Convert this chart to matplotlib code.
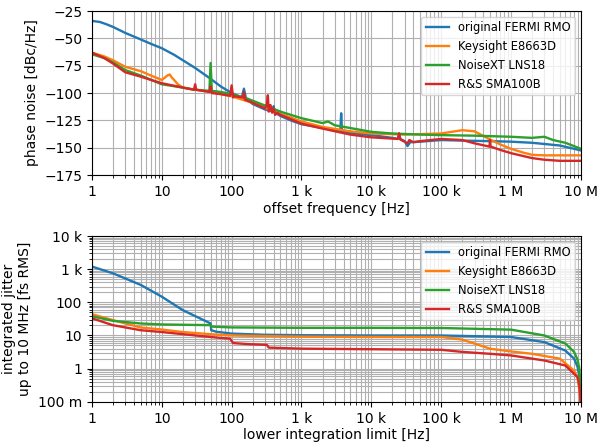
import numpy as np
import matplotlib
matplotlib.use('Agg')
import matplotlib.pyplot as plt
from matplotlib.ticker import EngFormatter

labels = ['original FERMI RMO', 'Keysight E8663D', 'NoiseXT LNS18', 'R&S SMA100B']

# phase noise [dBc/Hz] vs offset frequency [Hz]
pn_f_rmo = [1, 1.3, 1.6, 2, 3, 5, 7, 10, 15, 20, 30, 50, 70, 100, 140, 150, 160, 200, 300, 390, 400, 410,
            500, 700, 1e3, 2e3, 3e3, 3.6e3, 3.7e3, 3.8e3, 5e3, 1e4, 2e4, 2.4e4, 2.5e4, 2.6e4, 3e4, 3.3e4,
            3.6e4, 5e4, 1e5, 2e5, 5e5, 1e6, 2e6, 5e6, 1e7]
pn_rmo = [-34, -35, -37, -39.5, -45, -51, -55, -59, -65, -70, -77, -87, -94, -100, -104, -96, -104.5, -110,
          -115, -117, -112, -117.5, -121, -125, -128.5, -132, -134, -135, -118.5, -135, -136.5, -138.5, -141,
          -142, -137, -142, -144, -148.5, -145, -144.5, -143, -143.5, -144, -144.5, -145.5, -148, -152.5]

pn_f_key = [1, 1.5, 2, 3, 5, 7, 10, 11, 12, 13, 14, 15, 17, 20, 29, 30, 31, 50, 100, 200, 500, 1e3, 2e3,
            5e3, 1e4, 3e4, 1e5, 2e5, 3e5, 5e5, 7e5, 1e6, 1.5e6, 2e6, 3e6, 1e7]
pn_key = [-63, -66.5, -70, -76, -80, -84, -88, -86, -84, -83, -86, -88, -92, -95, -97, -94, -97, -99, -103,
          -109, -119, -126, -131, -135, -137, -138, -137, -134, -135, -142.5, -147, -151, -154.5, -156.5,
          -157, -157]

pn_f_nxt = [1, 1.5, 2, 3, 5, 10, 20, 30, 48, 50, 52, 70, 100, 150, 200, 500, 1e3, 2e3, 2.4e3, 3e3, 5e3,
            1e4, 2e4, 5e4, 1e5, 3e5, 1e6, 2e6, 3e6, 4e6, 6e6, 1e7]
pn_nxt = [-64.5, -68, -72, -79, -84, -92, -95, -97, -98, -72.5, -98, -99, -101, -104, -107, -117, -123,
          -127.5, -126, -129.5, -132, -135.5, -137, -138, -138.5, -139, -140, -141, -140, -143, -145.5, -151]

pn_f_rs = [1, 1.5, 2, 3, 5, 7, 10, 20, 29, 30, 31, 48, 50, 52, 70, 95, 100, 105, 110, 145, 150, 155, 200,
           300, 320, 330, 340, 360, 380, 400, 420, 450, 500, 1e3, 2e3, 5e3, 1e4, 2.4e4, 2.5e4, 2.6e4,
           3.3e4, 3.5e4, 4e4, 5e4, 1e5, 2e5, 3e5, 4.9e5, 5e5, 5.1e5, 7e5, 1e6, 2e6, 3e6, 5e6, 1e7]
pn_rs = [-63, -68, -73, -81, -85, -88, -91, -95, -97, -92, -97, -99, -94, -100, -101, -102.5, -93, -104,
         -103, -104, -99, -106, -109, -114, -110, -102, -117, -111, -118, -114, -120, -118, -120, -128,
         -132.5, -138, -140.5, -142, -137, -142.5, -146, -143, -145, -144, -142, -143, -146, -149, -143,
         -149, -152, -155, -159.5, -161, -162, -162]

# integrated jitter [fs RMS] vs lower integration limit [Hz]
jit_f_rmo = [1, 2, 5, 10, 20, 35, 50, 51, 60, 100, 300, 1e3, 1e4, 1e5, 1e6, 3e6, 6e6, 8e6, 9e6, 9.5e6,
             9.9e6, 1e7]
jit_rmo = [1200, 750, 335, 148, 58, 33, 23, 14.4, 13, 11.4, 10.5, 10.2, 10, 10, 9, 6.3, 3.5, 2, 1.1, 0.6,
           0.15, 0.05]

jit_f_key = [1, 2, 5, 10, 20, 50, 100, 1e3, 1e4, 1e5, 2e5, 3e5, 5e5, 1e6, 2e6, 5e6, 8e6, 9e6, 9.6e6,
             9.9e6, 1e7]
jit_key = [44, 29, 17.4, 15.1, 12.7, 10.9, 10, 9.2, 9, 9, 7.5, 5.7, 4.0, 3.3, 2.8, 2.0, 0.87, 0.5, 0.2,
           0.08, 0.05]

jit_f_nxt = [1, 2, 5, 10, 50, 52, 100, 1e3, 1e4, 1e5, 1e6, 3e6, 6e6, 8e6, 9e6, 9.5e6, 9.9e6, 1e7]
jit_nxt = [38, 27.6, 23, 21.5, 20.5, 18.5, 17.5, 17, 17, 16.8, 15, 10, 5.7, 3.2, 1.8, 1.0, 0.25, 0.05]

jit_f_rs = [1, 2, 5, 10, 50, 95, 105, 170, 320, 340, 1e3, 1e4, 1e5, 2e5, 5e5, 1e6, 3e6, 6e6, 9e6, 9.5e6,
            9.9e6, 1e7]
jit_rs = [33, 20.4, 14.4, 12.7, 9, 8, 5.9, 5.5, 5.2, 4.3, 4.0, 3.85, 3.7, 3.2, 2.8, 2.5, 1.76, 1.24, 0.55,
          0.3, 0.1, 0.05]

fig = plt.figure(figsize=(5.97, 4.42), dpi=100)
ax1 = fig.add_axes([0.154, 0.604, 0.819, 0.371])
ax2 = fig.add_axes([0.154, 0.091, 0.819, 0.375])

for f, v, lab in zip([pn_f_rmo, pn_f_key, pn_f_nxt, pn_f_rs], [pn_rmo, pn_key, pn_nxt, pn_rs], labels):
    ax1.plot(f, v, label=lab, lw=1.7)
ax1.set_xscale('log')
ax1.set_xlim(1, 1e7)
ax1.set_ylim(-175, -25)
ax1.set_yticks(np.arange(-175, -24, 25))
ax1.xaxis.set_major_formatter(EngFormatter(sep=' '))
ax1.set_xlabel('offset frequency [Hz]', labelpad=2)
ax1.set_ylabel('phase noise [dBc/Hz]')
ax1.grid(True, which='both')
ax1.legend(loc='upper right', fontsize=8.3)

for f, v, lab in zip([jit_f_rmo, jit_f_key, jit_f_nxt, jit_f_rs], [jit_rmo, jit_key, jit_nxt, jit_rs], labels):
    ax2.plot(f, v, label=lab, lw=1.7)
ax2.set_xscale('log')
ax2.set_yscale('log')
ax2.set_xlim(1, 1e7)
ax2.set_ylim(0.1, 1e4)
ax2.xaxis.set_major_formatter(EngFormatter(sep=' '))
ax2.yaxis.set_major_formatter(EngFormatter(sep=' '))
ax2.set_xlabel('lower integration limit [Hz]', labelpad=2)
ax2.set_ylabel('integrated jitter\nup to 10 MHz [fs RMS]')
ax2.grid(True, which='both')
ax2.legend(loc='upper right', fontsize=8.3)

fig.savefig('out.png', dpi=100)
